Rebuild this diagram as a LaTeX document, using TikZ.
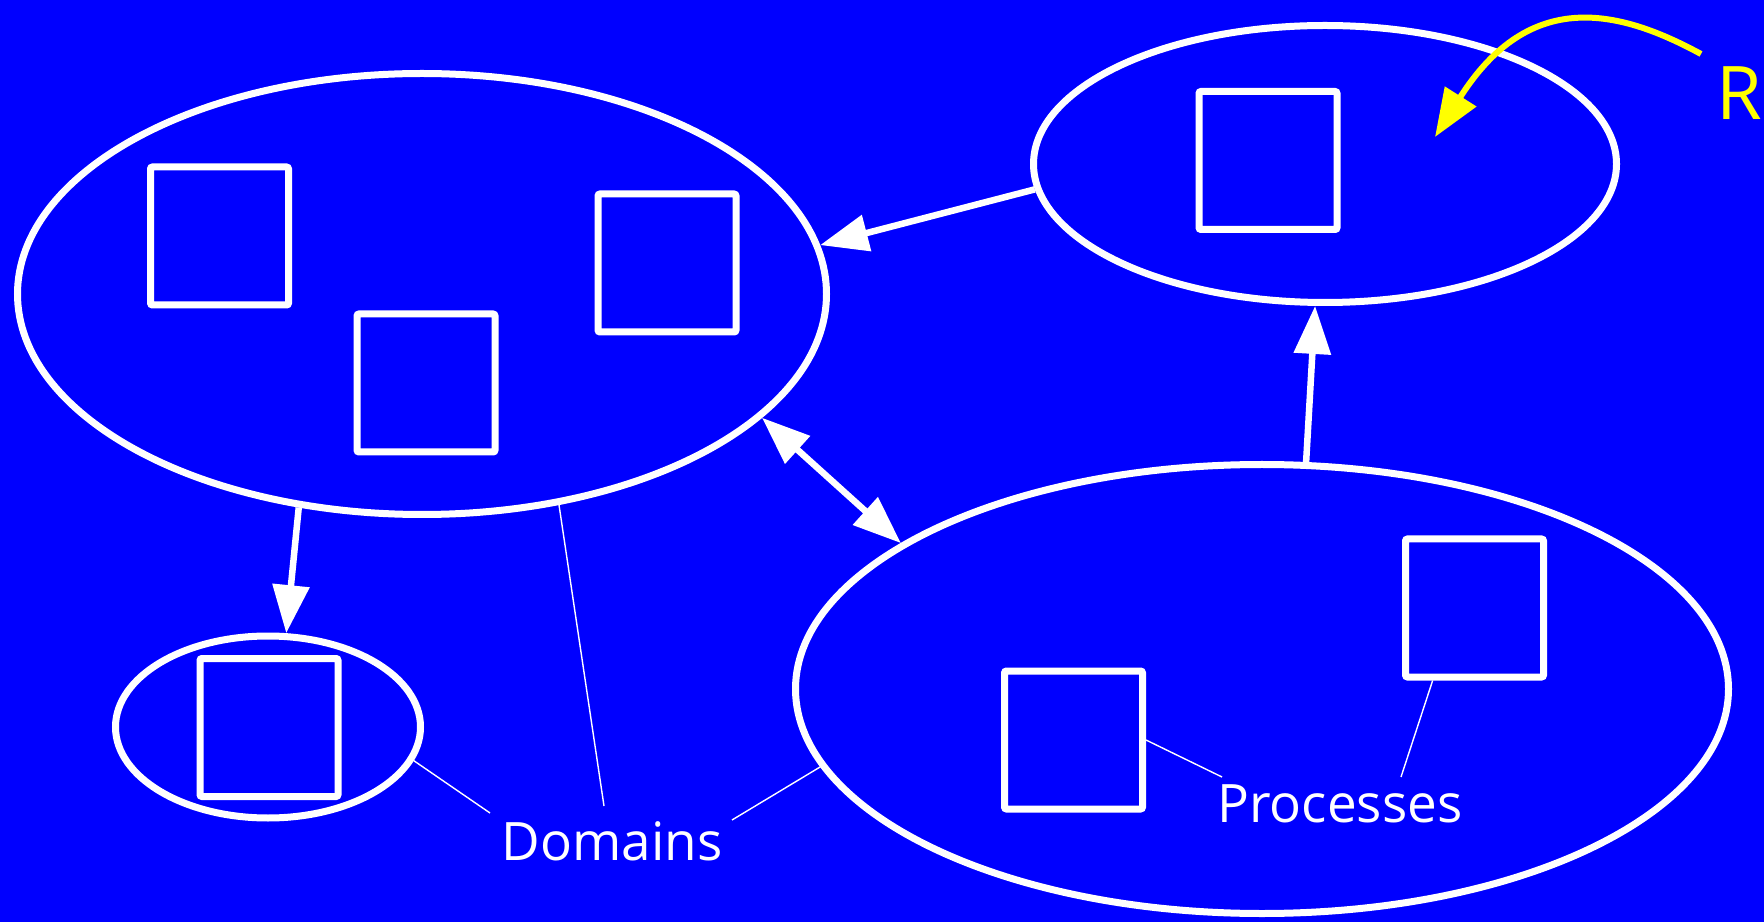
\documentclass[tikz,border=0pt]{standalone}
\usepackage{fontspec}
\setmainfont{Open Sans}
\usetikzlibrary{shapes.geometric,arrows.meta}
\definecolor{bgblue}{RGB}{0,0,255}
\definecolor{ylw}{RGB}{255,255,0}
\begin{document}
\begin{tikzpicture}[x=1pt,y=1pt,
  dom/.style={draw=white,line width=7pt,ellipse,inner sep=0pt},
  proc/.style={draw=white,line width=7pt,rectangle,inner sep=0pt,minimum size=138pt,rounded corners=2pt},
  conn/.style={draw=white,line width=6.5pt,-{Triangle[length=48pt,width=36pt]}},
  dconn/.style={draw=white,line width=6.5pt,{Triangle[length=48pt,width=36pt]}-{Triangle[length=48pt,width=36pt]}},
  callout/.style={draw=white,line width=1.4pt},
  lbl/.style={text=white,font=\fontsize{53}{60}\selectfont,inner sep=0pt,anchor=base}]
\fill[bgblue] (0,0) rectangle (1764,922);
\useasboundingbox (0,0) rectangle (1764,922);
% domains
\node[dom,minimum width=809pt,minimum height=441pt] (D1) at (422,628) {};
\node[dom,minimum width=583pt,minimum height=277pt] (D2) at (1325,758) {};
\node[dom,minimum width=305pt,minimum height=182pt] (D3) at (268,195) {};
\node[dom,minimum width=933pt,minimum height=449pt] (D4) at (1262,233) {};
% processes
\node[proc] (s1) at (219.5,686) {};
\node[proc] (s2) at (426,539) {};
\node[proc] (s3) at (667,659) {};
\node[proc] (s4) at (1268,761.5) {};
\node[proc] (s5) at (269,194.5) {};
\node[proc] (s6) at (1073.5,182) {};
\node[proc] (s7) at (1474.5,314) {};
% connectors
\draw[conn] (D2.185) -- (D1.7);
\draw[conn] (D4.79) -- (D2.266);
\draw[dconn] (D1.340.6) -- (D4.158.6);
\draw[conn] (D1.240.8) -- (D3.79.5);
% labels
\node[lbl] (ldom) at (612,62) {Domains};
\node[lbl] (lproc) at (1340,100) {Processes};
\node[text=ylw,font=\fontsize{74}{80}\selectfont,inner sep=0pt,anchor=base west] (R) at (1716,802) {R};
\coordinate (c1) at (490,109);
\coordinate (c2) at (604,116);
\coordinate (c3) at (732,102);
\coordinate (c4) at (1222,145);
\coordinate (c5) at (1401,145);
\draw[callout] (c1) -- (D3.347);
\draw[callout] (c2) -- (D1.303.8);
\draw[callout] (c3) -- (D4.190.6);
\draw[callout] (c4) -- (s6.east);
\draw[callout] (c5) -- (s7.240);
% yellow arrow
\coordinate (ys) at (1701,868);
\coordinate (ye) at (1435,785);
\draw[ylw,line width=6pt,-{Triangle[length=48pt,width=36pt]}] (ys) .. controls (1620,912) and (1530,935) .. (ye);
\end{tikzpicture}
\end{document}
